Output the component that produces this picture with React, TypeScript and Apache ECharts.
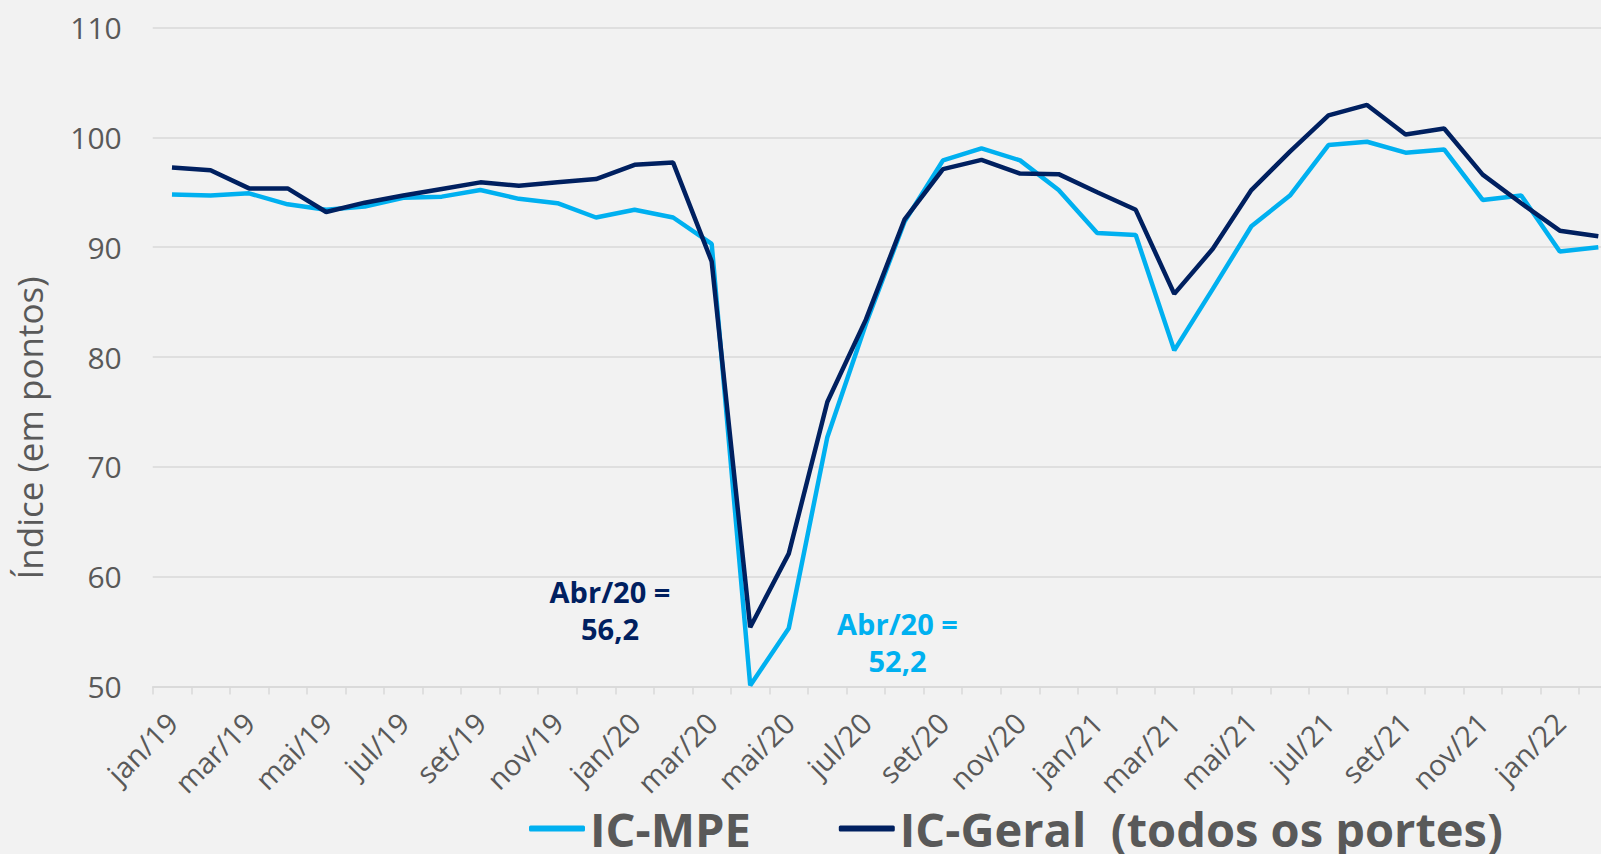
import React, { useEffect, useRef } from "react";
import * as echarts from "echarts";

const months = [
  "jan/19", "fev/19", "mar/19", "abr/19", "mai/19", "jun/19", "jul/19", "ago/19", "set/19", "out/19", "nov/19", "dez/19",
  "jan/20", "fev/20", "mar/20", "abr/20", "mai/20", "jun/20", "jul/20", "ago/20", "set/20", "out/20", "nov/20", "dez/20",
  "jan/21", "fev/21", "mar/21", "abr/21", "mai/21", "jun/21", "jul/21", "ago/21", "set/21", "out/21", "nov/21", "dez/21",
  "jan/22", "fev/22",
];

const icMpe = [
  94.8, 94.7, 94.9, 93.9, 93.4, 93.7, 94.5, 94.6, 95.2, 94.4, 94.0, 92.7,
  93.4, 92.7, 90.3, 50.1, 55.3, 72.7, 83.0, 92.3, 97.9, 99.0, 97.9, 95.2,
  91.3, 91.1, 80.6, 86.2, 91.9, 94.7, 99.3, 99.6, 98.6, 98.9, 94.3, 94.7,
  89.6, 90.0,
];

const icGeral = [
  97.25, 97.0, 95.35, 95.35, 93.2, 94.05, 94.7, 95.3, 95.9, 95.6, 95.9, 96.2,
  97.5, 97.7, 88.7, 55.4, 62.1, 75.9, 83.4, 92.5, 97.1, 97.95, 96.7, 96.65,
  95.0, 93.4, 85.75, 89.85, 95.2, 98.7, 102.0, 102.95, 100.25, 100.8, 96.6, 94.0,
  91.5, 91.0,
];

const seriesNames = ["IC-MPE", "IC-Geral  (todos os portes)"];
const yTicks = { min: 50, max: 110, interval: 10 };
const notes = [
  ["Abr/20 =", "56,2"],
  ["Abr/20 =", "52,2"],
];

const CYAN = "#00B0F0";
const NAVY = "#002060";
const GRAY = "#595959";
const GRID = "#D9D9D9";
const FONT = "'Open Sans', 'Noto Sans', sans-serif";

function noteText(text: string, x: number, y: number, fill: string) {
  return {
    type: "text",
    x,
    y,
    style: {
      text,
      fill,
      font: `bold 29px ${FONT}`,
      textAlign: "center",
      textVerticalAlign: "middle",
    },
  };
}

export default function App() {
  const ref = useRef<HTMLDivElement>(null);
  useEffect(() => {
    if (!ref.current) return;
    const chart = echarts.init(ref.current, null, { renderer: "svg" });
    chart.setOption({
      animation: false,
      backgroundColor: "#F2F2F2",
      textStyle: { fontFamily: FONT },
      grid: {
        left: 152.7,
        right: -16.6,
        top: 27.5,
        bottom: 167.5,
        containLabel: false,
        outerBoundsMode: "none",
      },
      legend: {
        data: seriesNames,
        left: 529,
        top: 805,
        padding: 0,
        icon: "roundRect",
        itemWidth: 56,
        itemHeight: 6,
        itemGap: 88,
        textStyle: { fontFamily: FONT, fontSize: 47, lineHeight: 46, fontWeight: "bold", color: GRAY },
      },
      xAxis: {
        type: "category",
        data: months,
        boundaryGap: true,
        axisLine: { lineStyle: { color: GRID, width: 1.5 } },
        axisTick: { show: true, interval: 0, length: 8, lineStyle: { color: GRID, width: 1.5 } },
        axisLabel: {
          interval: 1,
          rotate: 45,
          margin: 31,
          color: GRAY,
          fontSize: 29,
          fontFamily: FONT,
        },
        splitLine: { show: false },
      },
      yAxis: {
        type: "value",
        min: yTicks.min,
        max: yTicks.max,
        interval: yTicks.interval,
        name: "Índice (em pontos)",
        nameLocation: "middle",
        nameRotate: 90,
        nameGap: 106,
        nameTextStyle: { color: GRAY, fontSize: 35, fontFamily: FONT, padding: [0, 142, 0, 0] },
        axisLine: { show: false },
        axisTick: { show: false },
        axisLabel: { color: GRAY, fontSize: 30, fontFamily: FONT, margin: 31 },
        splitLine: { lineStyle: { color: GRID, width: 1.5 } },
      },
      series: [
        {
          name: seriesNames[0],
          type: "line",
          data: icMpe,
          symbol: "none",
          lineStyle: { color: CYAN, width: 4.5 },
          itemStyle: { color: CYAN },
          z: 2,
        },
        {
          name: seriesNames[1],
          type: "line",
          data: icGeral,
          symbol: "none",
          lineStyle: { color: NAVY, width: 4.5 },
          itemStyle: { color: NAVY },
          z: 3,
        },
      ],
      graphic: [
        noteText(notes[0][0], 610, 591, NAVY),
        noteText(notes[0][1], 610, 628, NAVY),
        noteText(notes[1][0], 897.5, 623, CYAN),
        noteText(notes[1][1], 897.5, 660, CYAN),
      ],
    });
    return () => chart.dispose();
  }, []);
  return (
    <div
      ref={ref}
      style={{ position: "fixed", left: 0, top: 0, width: 1601, height: 854, overflow: "hidden" }}
    />
  );
}
